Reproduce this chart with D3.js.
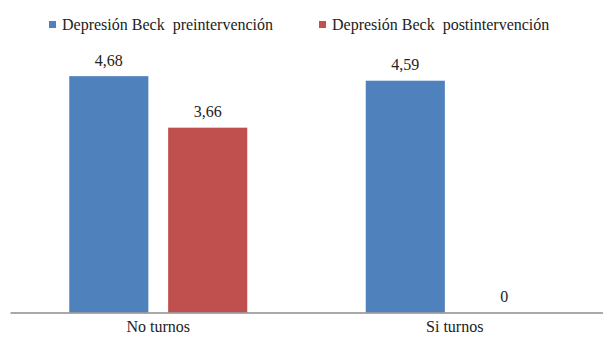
<!DOCTYPE html>
<html>
<head>
<meta charset="utf-8">
<script src="https://cdn.jsdelivr.net/npm/d3@7"></script>
<style>
  html, body { margin: 0; padding: 0; background: #fff; }
  svg { display: block; }
  svg text { font-family: 'Liberation Serif', serif; }
</style>
</head>
<body>
<svg id="chart" width="603" height="340" font-family="Liberation Serif"></svg>
<script>
// Beck depression scores by shift work, before and after intervention
const categories = ["No turnos", "Si turnos"];
const seriesNames = ["Depresión Beck  preintervención", "Depresión Beck  postintervención"];
const preValues = [4.68, 4.59];
const postValues = [3.66, 0];
const valueLabels = [["4,68", "3,66"], ["4,59", "0"]];
const colors = ["#4F81BD", "#C0504D"];

const serifFace = "'Liberation Serif', serif";
const svg = d3.select("#chart");
const baseY = 312.5;

const x0 = d3.scaleBand().domain(categories).range([10, 603]).paddingInner(0).paddingOuter(0);
const x1 = d3.scaleBand().domain([0, 1]).range([0, 178]).paddingInner(0.2).paddingOuter(0);
const y = d3.scaleLinear().domain([0, 5]).range([baseY, 60]);

const rows = categories.map((c, i) => ({
  cat: c,
  vals: [preValues[i], postValues[i]].map((v, s) => ({ s, v, label: valueLabels[i][s] }))
}));

const groupOffset = (x0.bandwidth() - 178) / 2;

const g = svg.selectAll("g.cat").data(rows).join("g")
  .attr("class", "cat")
  .attr("transform", d => `translate(${x0(d.cat) + groupOffset},0)`);

g.selectAll("rect").data(d => d.vals.filter(e => e.v > 0)).join("rect")
  .attr("x", d => x1(d.s))
  .attr("y", d => y(d.v))
  .attr("width", x1.bandwidth())
  .attr("height", d => baseY - y(d.v))
  .attr("fill", d => colors[d.s]);

g.selectAll("text.val").data(d => d.vals).join("text")
  .attr("class", "val")
  .attr("x", d => x1(d.s) + x1.bandwidth() / 2)
  .attr("y", d => y(d.v) - 10.5)
  .attr("text-anchor", "middle")
  .attr("font-family", serifFace)
  .attr("font-size", 16)
  .attr("fill", "#222")
  .text(d => d.label);

// category axis
const axis = d3.axisBottom(x0).tickSize(0).tickPadding(8);
const ax = svg.append("g").attr("transform", `translate(0,${baseY})`).call(axis);
ax.attr("font-family", serifFace).attr("font-size", 16);
ax.select(".domain").attr("stroke", "#8c8c8c").attr("stroke-width", 1.5);
ax.selectAll(".tick text").attr("fill", "#222");

// legend
const legendX = [49, 319];
const lg = svg.selectAll("g.legend").data(seriesNames).join("g")
  .attr("class", "legend")
  .attr("transform", (d, i) => `translate(${legendX[i]},0)`);
lg.append("rect").attr("x", 0).attr("y", 21).attr("width", 7).attr("height", 7)
  .attr("fill", (d, i) => colors[i]);
lg.append("text").attr("x", 13).attr("y", 30)
  .attr("font-family", serifFace)
  .attr("font-size", 16)
  .attr("fill", "#222")
  .style("white-space", "pre")
  .text(d => d);
</script>
</body>
</html>
